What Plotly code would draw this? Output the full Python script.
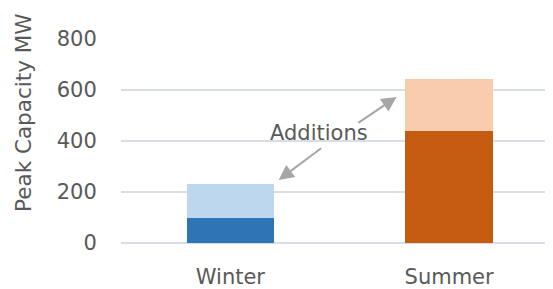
import plotly.graph_objects as go

categories = ["Winter", "Summer"]
existing = [100, 440]
additions = [130, 205]
existing_colors = ["#2E75B6", "#C55A11"]
addition_colors = ["#BDD7EE", "#F8CBAD"]
y_ticks = [0, 200, 400, 600, 800]

FONT = "DejaVu Sans"
GREY = "#595959"
FS = 21

fig = go.Figure()
fig.add_trace(go.Bar(x=categories, y=existing, marker=dict(color=existing_colors, line=dict(width=0)), width=0.4))
fig.add_trace(go.Bar(x=categories, y=additions, marker=dict(color=addition_colors, line=dict(width=0)), width=0.4))

arrow = dict(showarrow=True, arrowhead=2, arrowsize=1.5, arrowwidth=2, arrowcolor="#A6A6A6",
             xref="x", yref="y", axref="x", ayref="y", text="", standoff=0, startstandoff=0)
fig.add_annotation(x=0.221, y=247, ax=0.422, ay=376, **arrow)
fig.add_annotation(x=0.760, y=573, ax=0.578, ay=467, **arrow)
fig.add_annotation(x=0.404, y=432, xref="x", yref="y", text="Additions", showarrow=False,
                   font=dict(family=FONT, size=FS, color=GREY))
fig.add_annotation(text="Peak Capacity MW", xref="paper", yref="paper", x=-0.227, y=0.642,
                   xanchor="center", yanchor="middle", textangle=-90, showarrow=False,
                   font=dict(family=FONT, size=21.5, color=GREY))

# the page body adds an 8px offset; size and margins compensate for it
fig.update_layout(
    width=545, height=281,
    margin=dict(l=113, r=0, t=31, b=46, autoexpand=False),
    barmode="stack", showlegend=False,
    plot_bgcolor="white", paper_bgcolor="white",
    font=dict(family=FONT, size=FS, color=GREY),
    xaxis=dict(range=[-0.5, 1.475], showgrid=False, showline=False, zeroline=False, automargin=False,
               ticks="outside", ticklen=15, tickcolor="rgba(0,0,0,0)",
               tickfont=dict(family=FONT, size=FS, color=GREY)),
    yaxis=dict(range=[0, 800], tickvals=y_ticks, showgrid=True, gridcolor="#D9DEE6", gridwidth=1.5,
               zeroline=True, zerolinecolor="#D9DEE6", zerolinewidth=1.5, showline=False, automargin=False,
               ticks="outside", ticklen=19, tickcolor="rgba(0,0,0,0)",
               tickfont=dict(family=FONT, size=FS, color=GREY)),
)

fig.write_html("out.html")
